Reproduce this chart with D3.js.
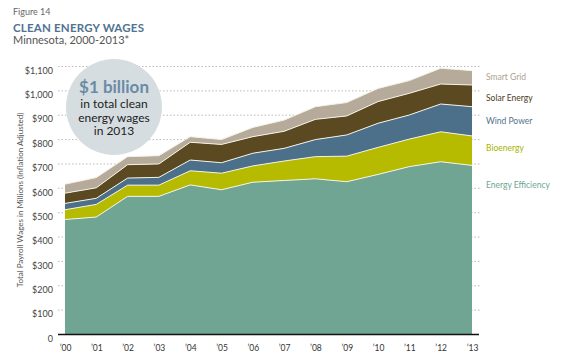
<!DOCTYPE html>
<html>
<head>
<meta charset="utf-8">
<script src="https://cdn.jsdelivr.net/npm/d3@7"></script>
<style>
  body { margin: 0; background: #fff; }
  svg { font-family: Lato, 'Open Sans', sans-serif; }
</style>
</head>
<body>
<svg class="area-chart" width="574" height="360"></svg>
<script>
'use strict';

const years = ['00', '01', '02', '03', '04', '05', '06', '07', '08', '09', '10', '11', '12', '13'];
const seriesNames = ['Energy Efficiency', 'Bioenergy', 'Wind Power', 'Solar Energy', 'Smart Grid'];

// wages in $ millions, per sector (stacked)
const energyEfficiency = [470, 480, 565, 565, 612, 592, 623, 630, 637, 625, 655, 687, 707, 692];
const bioenergy = [40, 52, 46, 46, 58, 68, 67, 80, 91, 105, 111, 113, 123, 121];
const windPower = [26, 25, 29, 32, 44, 43, 52, 52, 70, 87, 99, 99, 114, 120];
const solarEnergy = [42, 43, 55, 55, 73, 75, 68, 70, 83, 78, 89, 89, 82, 89];
const smartGrid = [37, 42, 33, 34, 23, 20, 38, 46, 52, 55, 54, 52, 65, 59];

const yTicks = [0, 100, 200, 300, 400, 500, 600, 700, 800, 900, 1000, 1100];
const yTickLabels = ['0', '$100', '$200', '$300', '$400', '$500', '$600', '$700', '$800', '$900', '$1,000', '$1,100'];

const fills = ['#6fa592', '#b6bb00', '#4c6f8a', '#5a4921', '#b6aa9b'];
const labelColors = ['#6fa592', '#aab300', '#4f7390', '#4a3b1a', '#ada190'];

function render() {
  const svg = d3.select('svg.area-chart');

  const table = years.map((yr, i) => ({
    year: yr,
    'Energy Efficiency': energyEfficiency[i],
    'Bioenergy': bioenergy[i],
    'Wind Power': windPower[i],
    'Solar Energy': solarEnergy[i],
    'Smart Grid': smartGrid[i]
  }));

  const x = d3.scalePoint().domain(years).range([65, 472]);
  const y = d3.scaleLinear().domain([0, 1100]).range([334, 66]);

  // titles
  svg.append('text').attr('x', 13).attr('y', 15)
    .attr('font-size', 9).attr('fill', '#666').text('Figure 14');
  svg.append('text').attr('x', 13).attr('y', 32)
    .attr('font-size', 11.5).attr('font-weight', 'bold').attr('fill', '#4f7390')
    .attr('letter-spacing', 0.2).text('CLEAN ENERGY WAGES');
  svg.append('text').attr('x', 13).attr('y', 44)
    .attr('font-size', 11).attr('fill', '#555').text('Minnesota, 2000-2013*');

  // gridlines
  const grid = svg.append('g')
    .attr('transform', 'translate(58,0)')
    .call(d3.axisLeft(y).tickValues(yTicks.slice(1)).tickSize(-422).tickFormat(''));
  grid.select('.domain').remove();
  grid.selectAll('line').attr('stroke', '#aaa').attr('stroke-width', 0.8)
    .attr('stroke-dasharray', '1.5,2');

  // y tick labels
  const yAxis = svg.append('g')
    .attr('transform', 'translate(53,0)')
    .call(d3.axisLeft(y).tickValues(yTicks).tickSize(0).tickPadding(0)
      .tickFormat((d, i) => yTickLabels[i]));
  yAxis.select('.domain').remove();
  yAxis.selectAll('text').attr('font-family', 'Lato, sans-serif')
    .attr('font-size', 9).attr('fill', '#444').attr('dy', '0.8em');

  svg.append('text')
    .attr('transform', 'translate(23,' + 200 + ') rotate(-90)')
    .attr('text-anchor', 'middle').attr('font-size', 8).attr('fill', '#555')
    .text('Total Payroll Wages in Millions (Inflation Adjusted)');

  // stacked areas
  const stacked = d3.stack().keys(seriesNames)(table);
  const area = d3.area()
    .x((d) => x(d.data.year))
    .y0((d) => y(d[0]))
    .y1((d) => y(d[1]));
  const topLine = d3.line()
    .x((d) => x(d.data.year))
    .y((d) => y(d[1]));

  svg.append('g').selectAll('path')
    .data(stacked)
    .enter()
    .append('path')
    .attr('d', area)
    .attr('fill', (d, i) => fills[i]);

  svg.append('g').selectAll('path')
    .data(stacked)
    .enter()
    .append('path')
    .attr('d', topLine)
    .attr('fill', 'none')
    .attr('stroke', '#f4f2e6')
    .attr('stroke-width', 1);

  // x axis
  svg.append('line').attr('x1', 58).attr('x2', 479)
    .attr('y1', y(0) + 0.5).attr('y2', y(0) + 0.5)
    .attr('stroke', '#111').attr('stroke-width', 1.5);
  const xAxis = svg.append('g')
    .attr('transform', 'translate(0,' + (y(0) + 11) + ')')
    .call(d3.axisBottom(x).tickSize(0).tickPadding(0).tickFormat((d) => '\u2019' + d));
  xAxis.select('.domain').remove();
  xAxis.selectAll('text').attr('font-family', 'Lato, sans-serif')
    .attr('font-size', 8.5).attr('fill', '#333');

  // legend labels at the right end of each layer
  const legendY = [185, 148, 121, 98, 77];
  svg.append('g').selectAll('text')
    .data(seriesNames)
    .enter()
    .append('text')
    .attr('x', 486)
    .attr('y', (d, i) => legendY[i])
    .attr('dy', '0.35em')
    .attr('font-size', 8.5)
    .attr('fill', (d, i) => labelColors[i])
    .text((d) => d);

  // callout bubble
  const bubble = svg.append('g').attr('transform', 'translate(114,107)');
  bubble.append('circle').attr('r', 48).attr('fill', '#d5dde1');
  bubble.append('text').attr('y', -14).attr('text-anchor', 'middle')
    .attr('font-size', 17).attr('font-weight', 'bold').attr('fill', '#6a8ba6')
    .text('$1 billion');
  const lines = ['in total clean', 'energy wages', 'in 2013'];
  bubble.selectAll('text.sub')
    .data(lines)
    .enter()
    .append('text')
    .attr('class', 'sub')
    .attr('y', (d, i) => 1 + i * 13.5)
    .attr('text-anchor', 'middle')
    .attr('font-size', 12)
    .attr('fill', '#222')
    .text((d) => d);
}

render();
</script>
</body>
</html>
